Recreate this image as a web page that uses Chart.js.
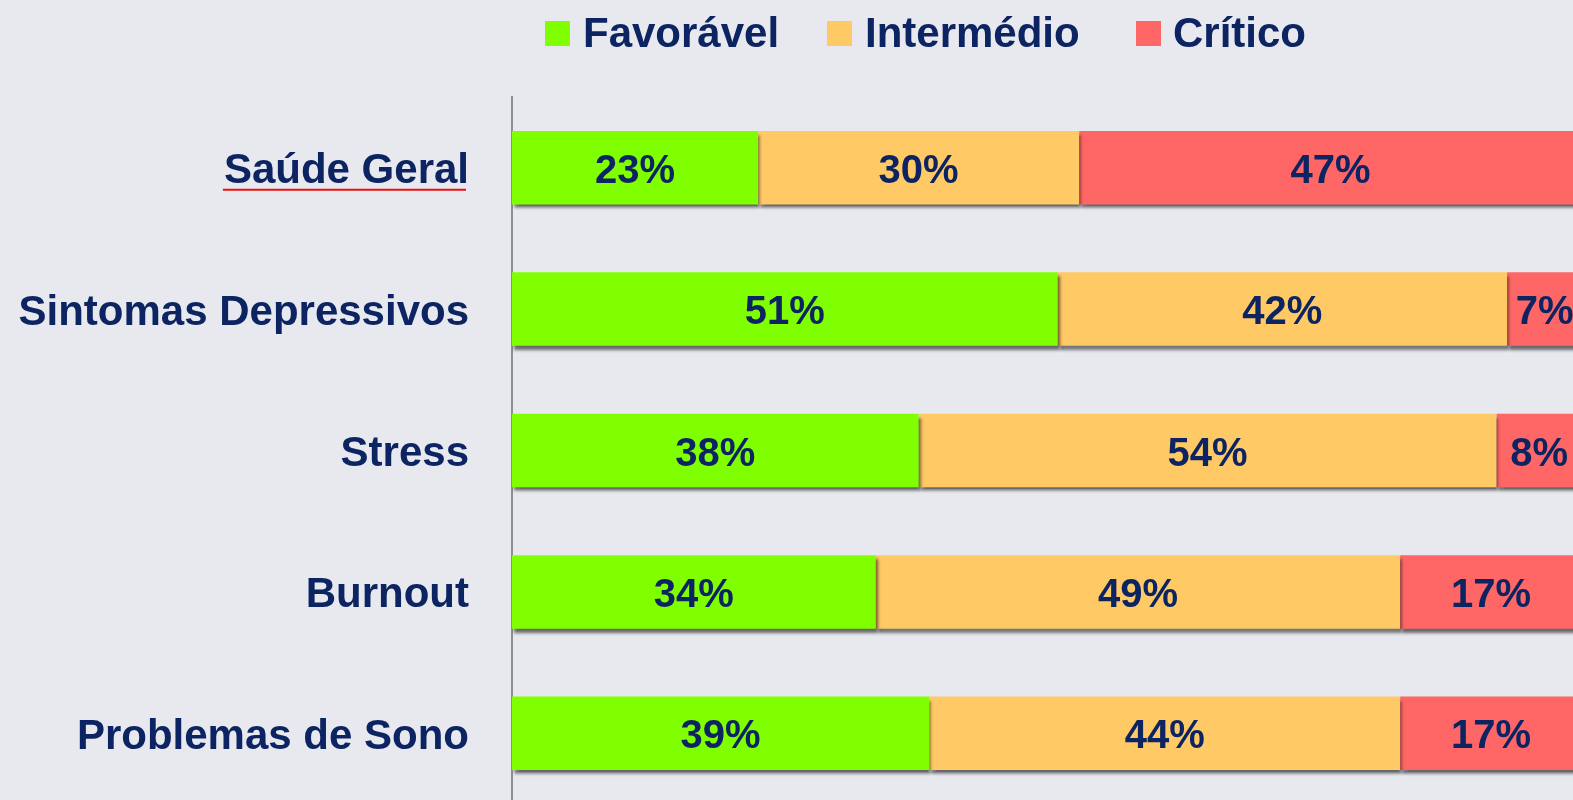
<!DOCTYPE html>
<html>
<head>
<meta charset="utf-8">
<script src="https://cdn.jsdelivr.net/npm/chart.js@4.4.1/dist/chart.umd.min.js"></script>
<style>
    html, body { margin: 0; padding: 0; background: #e8e9ef; overflow: hidden; }
    #wrap { position: absolute; left: 0; top: 0; }
</style>
</head>
<body>
<div id="wrap"><canvas id="chart" width="1584" height="805"></canvas></div>
<script>
const categories = ['Saúde Geral', 'Sintomas Depressivos', 'Stress', 'Burnout', 'Problemas de Sono'];
const seriesNames = ['Favorável', 'Intermédio', 'Crítico'];
const favoravel = [23, 51, 38, 34, 39];
const intermedio = [30, 42, 54, 49, 44];
const critico = [47, 7, 8, 17, 17];

const NAVY = '#0c2461';
const colors = ['#80ff00', '#ffca66', '#ff6666'];

// bars get a grey drop shadow underneath
const shadowPlugin = {
    id: 'barShadow',
    beforeDatasetsDraw(chart) {
        const ctx = chart.ctx;
        ctx.save();
        ctx.shadowColor = 'rgba(0,0,0,0.55)';
        ctx.shadowBlur = 3;
        ctx.shadowOffsetX = 2;
        ctx.shadowOffsetY = 4;
    },
    afterDatasetsDraw(chart) {
        chart.ctx.restore();
    }
};

// percentage text in the middle of every segment
const valueLabels = {
    id: 'valueLabels',
    afterDatasetsDraw(chart) {
        const ctx = chart.ctx;
        ctx.save();
        ctx.font = 'bold 40px "Liberation Sans", Arial, sans-serif';
        ctx.fillStyle = NAVY;
        ctx.textAlign = 'center';
        ctx.textBaseline = 'middle';
        chart.data.datasets.forEach((ds, i) => {
            chart.getDatasetMeta(i).data.forEach((bar, j) => {
                const cx = (bar.x + bar.base) / 2;
                ctx.fillText(ds.data[j] + '%', cx, bar.y + 4);
            });
        });
        ctx.restore();
    }
};

// legend drawn by hand so the box/text spacing matches
const topLegend = {
    id: 'topLegend',
    afterDraw(chart) {
        const ctx = chart.ctx;
        const boxX = [545, 827, 1136];
        const textX = [583, 865, 1173];
        ctx.save();
        ctx.font = 'bold 42px "Liberation Sans", Arial, sans-serif';
        ctx.textBaseline = 'alphabetic';
        ctx.textAlign = 'left';
        chart.data.datasets.forEach((ds, i) => {
            ctx.fillStyle = ds.backgroundColor;
            ctx.fillRect(boxX[i], 21, 25, 25);
            ctx.fillStyle = NAVY;
            ctx.fillText(ds.label, textX[i], 47);
        });
        ctx.restore();

        // red spell-check underline under the first category
        const y = chart.scales.y;
        ctx.save();
        ctx.font = 'bold 42px "Liberation Sans", Arial, sans-serif';
        const w = ctx.measureText(categories[0]).width;
        const yy = y.getPixelForTick(0) + 22;
        ctx.strokeStyle = '#e81010';
        ctx.lineWidth = 2;
        ctx.beginPath();
        ctx.moveTo(468 - w, yy);
        ctx.lineTo(466, yy);
        ctx.stroke();
        ctx.restore();
    }
};

new Chart(document.getElementById('chart'), {
    type: 'bar',
    data: {
        labels: categories,
        datasets: [
            { label: seriesNames[0], data: favoravel, backgroundColor: colors[0] },
            { label: seriesNames[1], data: intermedio, backgroundColor: colors[1] },
            { label: seriesNames[2], data: critico, backgroundColor: colors[2] }
        ]
    },
    options: {
        indexAxis: 'y',
        responsive: false,
        animation: false,
        layout: { padding: { top: 97, right: 2, bottom: 1, left: 0 } },
        datasets: { bar: { categoryPercentage: 1, barPercentage: 0.52, borderWidth: 0 } },
        plugins: { legend: { display: false }, tooltip: { enabled: false } },
        scales: {
            x: { stacked: true, min: 0, max: 100, display: false },
            y: {
                stacked: true,
                afterFit(scale) {
                    scale.width = 512;
                    // tick padding would otherwise also eat space above/below
                    scale.paddingTop = 0;
                    scale.paddingBottom = 0;
                },
                grid: { display: false, drawTicks: false },
                border: { display: true, color: '#8f8f8f', width: 2 },
                ticks: {
                    padding: 43,
                    labelOffset: 4,
                    color: NAVY,
                    font: { family: '"Liberation Sans", Arial, sans-serif', size: 42, weight: 'bold' }
                }
            }
        }
    },
    plugins: [shadowPlugin, valueLabels, topLegend]
});
</script>
</body>
</html>
